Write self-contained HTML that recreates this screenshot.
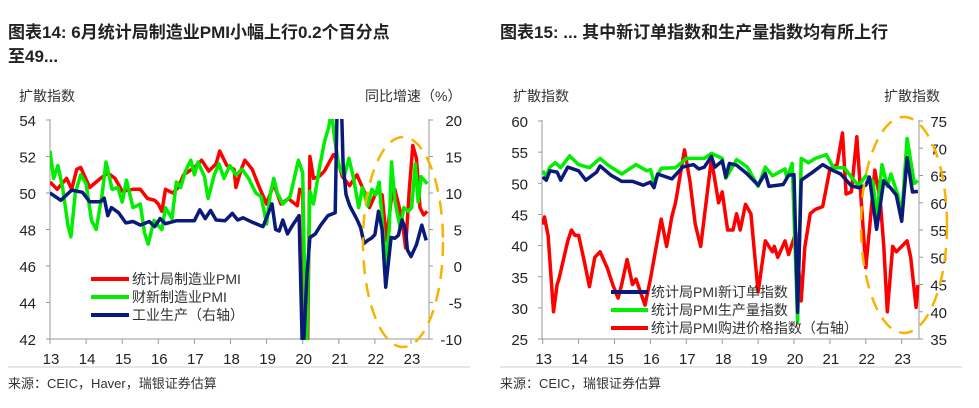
<!DOCTYPE html>
<html><head><meta charset="utf-8">
<style>
html,body{margin:0;padding:0;background:#fff;width:979px;height:408px;overflow:hidden;font-family:"Liberation Sans","Noto Sans CJK SC",sans-serif}
svg{position:absolute;left:0;top:0;display:block}
text{font-family:"Liberation Sans","Noto Sans CJK SC",sans-serif}
</style></head><body>
<svg id="s" width="979" height="408" xmlns="http://www.w3.org/2000/svg">
<defs>
<clipPath id="c1"><rect x="50" y="119" width="380" height="221"/></clipPath>
<clipPath id="c2"><rect x="542" y="120" width="378" height="220"/></clipPath>
</defs>
<text x="8" y="38" font-size="17" font-weight="bold" fill="#222">图表14: 6月统计局制造业PMI小幅上行0.2个百分点</text>
<text x="8" y="62" font-size="17" font-weight="bold" fill="#222">至49...</text>
<text x="500" y="38" font-size="17" font-weight="bold" fill="#222">图表15: ... 其中新订单指数和生产量指数均有所上行</text>
<line x1="8" y1="367" x2="470" y2="367" stroke="#ccc"/>
<line x1="500" y1="367" x2="962" y2="367" stroke="#ccc"/>
<text x="8" y="388" font-size="13" fill="#333">来源：CEIC，Haver，瑞银证券估算</text>
<text x="500" y="388" font-size="13" fill="#333">来源：CEIC，瑞银证券估算</text>
<g font-size="14" fill="#333">
<text x="19" y="101">扩散指数</text><text x="365" y="101">同比增速（%）</text>
<text x="513" y="101">扩散指数</text><text x="884" y="101">扩散指数</text>
</g>
<g id="g"></g>
</svg>
<script>
const S=document.getElementById('g');let h='';
function L(x1,y1,x2,y2){h+=`<line x1="${x1}" y1="${y1}" x2="${x2}" y2="${y2}" stroke="#999" stroke-width="1"/>`;}
function T(x,y,t,a){h+=`<text x="${x}" y="${y}" font-size="15" fill="#222" text-anchor="${a}">${t}</text>`;}
const lx=y=>50+(y-13)*36.1, ly=v=>120+(54-v)*18.25, lr=v=>120+(20-v)*7.3;
L(50,119,50,339);L(50,339,430,339);L(429,119,429,339);
for(let v=42;v<=54;v+=2){L(46,ly(v),50,ly(v));T(36,ly(v)+6,v,'end');}
for(let v=-10;v<=20;v+=5){L(429,lr(v),433,lr(v));T(462,lr(v)+6,v,'end');}
for(let y=13;y<=23;y++){L(lx(y),339,lx(y),344);T(lx(y)+1,364,y,'middle');}
const rx=y=>542.7+(y-13)*35.9, ry=v=>121+(60-v)*6.23, rr=v=>121+(75-v)*5.45;
L(542,120,542,339);L(542,339,920,339);L(919,120,919,339);
for(let v=25;v<=60;v+=5){L(538,ry(v),542,ry(v));T(528,ry(v)+6,v,'end');}
for(let v=35;v<=75;v+=5){L(919,rr(v),923,rr(v));T(947,rr(v)+6,v,'end');}
for(let y=13;y<=23;y++){L(rx(y),339,rx(y),344);T(rx(y)+1,364,y,'middle');}
function P(d,fx,fy,col,clip){let p=[];for(let i=0;i<d.length;i+=2)p.push(fx(d[i]).toFixed(1)+','+fy(d[i+1]).toFixed(1));
h+=`<polyline clip-path="url(#${clip})" points="${p.join(' ')}" fill="none" stroke="${col}" stroke-width="3.5" stroke-linejoin="round"/>`;}
const red=[13,50.6,13.2,50.2,13.46,50.8,13.6,50.2,13.74,51.3,13.85,51.4,14.1,50.3,14.4,50.8,14.6,51.1,14.8,50.8,15.0,50.1,15.3,50.2,15.5,50.2,15.7,49.7,15.9,49.6,16.0,49.4,16.1,49.0,16.2,50.2,16.4,50.0,16.55,50.3,16.7,51.0,17.0,51.4,17.2,51.8,17.4,51.2,17.6,51.6,17.7,52.3,17.9,51.5,18.1,51.3,18.15,50.3,18.3,51.3,18.4,51.8,18.6,51.3,18.8,50.3,19.0,49.4,19.2,50.5,19.4,49.4,19.6,49.7,19.85,49.3,19.92,50.2,20.0,50.0,20.1,35.7,20.2,52.0,20.3,50.8,20.45,50.9,20.6,51.2,20.85,52.1,20.95,51.9,21.1,50.9,21.3,50.4,21.5,51.0,21.7,50.1,21.85,49.2,22.05,50.1,22.2,49.9,22.32,47.4,22.45,49.6,22.55,50.2,22.65,49.4,22.75,48.6,22.85,47.0,22.95,50.1,23.05,52.6,23.15,51.9,23.25,49.2,23.35,48.8,23.45,49.0];
const grn=[13,52.3,13.1,50.8,13.22,51.5,13.35,50.3,13.5,48.2,13.58,47.6,13.7,50.0,13.85,51.0,14.0,50.5,14.15,48.5,14.28,48.0,14.45,50.0,14.55,51.7,14.72,50.2,14.88,50.3,15.0,49.5,15.12,50.7,15.3,49.2,15.5,49.4,15.62,47.8,15.72,47.2,15.88,48.5,16.0,48.2,16.1,48.0,16.2,49.2,16.38,48.6,16.5,50.6,16.62,50.3,16.75,51.2,16.9,51.8,17.0,51.0,17.1,51.7,17.28,50.9,17.38,49.7,17.55,51.0,17.68,51.6,17.82,50.8,17.98,51.5,18.15,51.0,18.32,51.3,18.5,50.8,18.7,50.0,18.85,49.8,19.0,48.3,19.1,49.9,19.2,50.8,19.3,50.0,19.45,49.4,19.65,49.8,19.88,51.8,20.0,51.1,20.1,40.3,20.2,50.1,20.3,49.4,20.45,51.2,20.6,52.8,20.72,53.6,20.8,54.5,20.88,53.0,21.0,51.5,21.15,50.9,21.28,51.9,21.4,50.9,21.55,49.2,21.65,50.3,21.8,49.3,21.92,50.2,22.02,49.9,22.12,50.6,22.22,48.1,22.3,46.0,22.4,48.1,22.46,51.7,22.56,49.5,22.7,48.1,22.8,49.2,22.92,49.0,23.02,49.2,23.12,51.6,23.2,49.5,23.28,50.9,23.45,50.5];
const ip=[13,10,13.3,9,13.6,10.4,13.9,10.1,14.1,8.8,14.4,8.8,14.5,9.3,14.6,6.9,14.7,8,14.9,7.3,15.1,5.9,15.3,6.1,15.5,5.6,15.75,6.1,15.9,5.4,16.05,6.5,16.2,5.8,16.5,6.2,17.0,6.2,17.15,7.7,17.3,6.5,17.45,7.6,17.6,6.3,17.85,6.2,18.05,7.2,18.2,6.3,18.35,6.6,18.6,6,18.9,5.4,19.15,8.5,19.25,5.0,19.35,4.8,19.45,6.3,19.58,4.4,19.72,5.6,19.9,6.9,20.0,-13.5,20.12,-1.1,20.2,3.9,20.35,4.4,20.5,5.6,20.7,6.9,20.9,7.3,21.0,35,21.12,14,21.2,9.8,21.3,8.3,21.5,6.4,21.6,5.3,21.7,3.1,21.8,3.5,21.9,3.8,22.0,4.3,22.1,7.5,22.2,5.0,22.3,-2.9,22.45,3.9,22.55,3.8,22.65,4.2,22.75,6.3,22.85,5.0,22.9,2.2,23.0,1.3,23.15,2.9,23.3,5.6,23.42,3.5];
P(red,lx,ly,'#f00','c1');P(grn,lx,ly,'#0e0','c1');P(ip,lx,lr,'#0a1a7a','c1');
const no=[13,51,13.1,50.5,13.2,52,13.4,51.8,13.5,50.5,13.7,52.6,14.0,52,14.2,50.5,14.5,51.8,14.6,52.8,14.9,51.3,15.2,50.3,15.5,50.3,15.8,49.7,16.0,50.2,16.1,49.3,16.2,51.5,16.6,50.7,16.9,52.6,17.2,53,17.35,52.3,17.5,52.6,17.7,54.3,17.8,52.6,18.0,53.6,18.1,51.0,18.2,53.2,18.4,52.9,18.7,51.5,19.0,49.7,19.2,51.6,19.3,49.5,19.7,49.8,19.85,51.3,20.0,51.4,20.1,29.3,20.2,50.5,20.5,51.7,20.8,53.0,21.0,52.3,21.3,51.5,21.6,49.6,21.8,49.3,22.0,49.7,22.1,51.0,22.3,42.6,22.5,50.4,22.7,49.2,22.85,48.1,23.0,43.9,23.15,54.1,23.3,48.6,23.45,48.7];
const pr=[13,52,13.1,51.1,13.2,52.6,13.35,53.3,13.5,52.5,13.75,54.4,14.0,53,14.3,52.5,14.6,54,14.8,53,15.2,51.5,15.6,53,15.9,52,16.0,52.2,16.1,50.2,16.3,52.4,16.7,52.5,17.0,54,17.5,54.0,17.7,54.8,18.0,54,18.1,50.8,18.4,53.8,18.7,52.6,19.0,49.5,19.2,52.6,19.4,51.2,19.75,52.3,19.8,50.8,19.95,53.2,20.1,27.8,20.2,54.0,20.4,53.3,20.6,54.0,20.9,54.6,21.1,52.5,21.4,52.5,21.6,51.0,21.8,49.6,22.0,51.2,22.2,50.3,22.3,44.4,22.45,53.0,22.6,49.5,22.7,51.5,22.9,48,23.0,44.6,23.15,57.2,23.35,50.0,23.45,50.4];
const ipp=[13,56,13.05,57.4,13.15,54,13.3,40,13.4,45,13.45,46,13.7,53,13.8,55,13.9,54,14.0,54,14.15,49.5,14.3,44.6,14.45,50,14.6,51,14.8,48,14.95,45,15.1,42.5,15.2,45,15.35,49.6,15.5,45,15.6,46,15.85,41.2,16.0,46,16.3,57,16.45,52,16.6,57.5,16.7,60,16.95,69.7,17.1,64,17.25,56,17.4,52,17.7,68,17.9,60,18.0,62,18.15,55,18.3,55,18.4,58,18.5,55,18.65,59.7,18.8,58,19.0,43.6,19.2,53,19.4,51,19.45,52,19.55,50,19.75,53,19.85,50.5,20.05,54.5,20.2,42,20.3,51.8,20.45,58,20.6,58.8,20.8,59.3,21.0,66.2,21.2,67,21.35,72.8,21.45,61.6,21.6,62,21.75,72.1,22.0,48.1,22.1,55,22.25,66,22.4,60.5,22.5,52,22.6,40,22.75,52,22.85,51,23.0,52,23.15,53,23.25,50,23.4,40.8,23.45,44.9];
P(ipp,rx,rr,'#f00','c2');P(pr,rx,ry,'#0e0','c2');P(no,rx,ry,'#0a1a7a','c2');
h+=`<ellipse cx="403" cy="242" rx="40" ry="105" fill="none" stroke="#f6b400" stroke-width="2.5" stroke-dasharray="14,9"/>`;
h+=`<ellipse cx="904" cy="225" rx="43" ry="108" fill="none" stroke="#f6b400" stroke-width="2.5" stroke-dasharray="14,9"/>`;
const lg=(x1,x2,y,c,t)=>{h+=`<line x1="${x1}" y1="${y}" x2="${x2}" y2="${y}" stroke="${c}" stroke-width="4"/><text x="${x2+3}" y="${y+5}" font-size="14" fill="#333">${t}</text>`;};
lg(91,129,279,'#f00','统计局制造业PMI');lg(91,129,297,'#0e0','财新制造业PMI');lg(91,129,315,'#0a1a7a','工业生产（右轴）');
lg(611,648,292,'#0a1a7a','统计局PMI新订单指数');lg(611,648,310,'#0e0','统计局PMI生产量指数');lg(611,648,328,'#f00','统计局PMI购进价格指数（右轴）');
S.innerHTML=h;
</script>
</body></html>
